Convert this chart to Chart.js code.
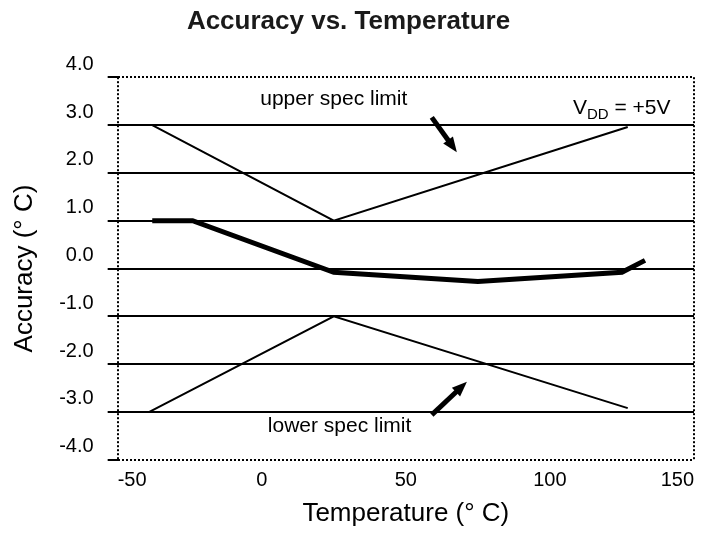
<!DOCTYPE html>
<html>
<head>
<meta charset="utf-8">
<title>Accuracy vs. Temperature</title>
<script src="https://cdn.jsdelivr.net/npm/chart.js@4.4.1/dist/chart.umd.min.js"></script>
<style>
  html, body { margin: 0; padding: 0; background: #fff; }
  #wrap { width: 703px; height: 536px; position: relative; }
</style>
</head>
<body>
<div id="wrap"><canvas id="chart"></canvas></div>
<script>
// Data (temperature in deg C, accuracy in deg C)
const upperTemps = [-38, 25, 127];
const upperVals = [3.0, 1.0, 2.96];
const lowerTemps = [-39, 25, 127];
const lowerVals = [-3.0, -1.0, -2.92];
const accTemps = [-38, -24, 25, 75, 125, 133];
const accVals = [1.0, 1.0, -0.08, -0.27, -0.08, 0.17];

const xTicks = [-50, 0, 50, 100, 150];
const yTicks = [-4, -3, -2, -1, 0, 1, 2, 3, 4];

const FONT = '"Liberation Sans", Arial, Helvetica, sans-serif';

function toPoints(xs, ys) {
  return xs.map((x, i) => ({ x, y: ys[i] }));
}

/**
 * Draws the text notes and the two arrows, placed in data units
 */
const notes = {
  id: 'notes',
  afterDatasetsDraw(chart) {
    const { ctx, scales: { x, y } } = chart;
    ctx.save();
    ctx.fillStyle = '#000';
    ctx.strokeStyle = '#000';

    ctx.font = '21px ' + FONT;
    ctx.textAlign = 'center';
    ctx.textBaseline = 'middle';
    ctx.fillText('upper spec limit', x.getPixelForValue(25), y.getPixelForValue(3.54));
    ctx.fillText('lower spec limit', x.getPixelForValue(27), y.getPixelForValue(-3.29));

    // V_DD = +5V
    ctx.textAlign = 'left';
    ctx.textBaseline = 'alphabetic';
    let px = x.getPixelForValue(108);
    const py = y.getPixelForValue(3.225);
    ctx.fillText('V', px, py);
    px += ctx.measureText('V').width;
    ctx.font = '15px ' + FONT;
    ctx.fillText('DD', px, py + 5);
    px += ctx.measureText('DD').width;
    ctx.font = '21px ' + FONT;
    ctx.fillText(' = +5V', px, py);

    drawArrow(ctx, x, y, [59, 3.16], [67.7, 2.43]);
    drawArrow(ctx, x, y, [59, -3.06], [71.2, -2.37]);
    ctx.restore();
  }
};

function drawArrow(ctx, x, y, from, to) {
  const x0 = x.getPixelForValue(from[0]);
  const y0 = y.getPixelForValue(from[1]);
  const x1 = x.getPixelForValue(to[0]);
  const y1 = y.getPixelForValue(to[1]);
  const ang = Math.atan2(y1 - y0, x1 - x0);
  const head = 15;
  const bx = x1 - head * Math.cos(ang);
  const by = y1 - head * Math.sin(ang);

  ctx.lineWidth = 5;
  ctx.lineCap = 'butt';
  ctx.beginPath();
  ctx.moveTo(x0, y0);
  ctx.lineTo(bx + 2 * Math.cos(ang), by + 2 * Math.sin(ang));
  ctx.stroke();

  ctx.beginPath();
  ctx.moveTo(x1, y1);
  ctx.lineTo(bx + 6 * Math.sin(ang), by - 6 * Math.cos(ang));
  ctx.lineTo(bx - 6 * Math.sin(ang), by + 6 * Math.cos(ang));
  ctx.closePath();
  ctx.fill();
}

const edgeX = (v) => v === xTicks[0] || v === xTicks[xTicks.length - 1];
const edgeY = (v) => v === yTicks[0] || v === yTicks[yTicks.length - 1];

new Chart(document.getElementById('chart'), {
  type: 'line',
  data: {
    datasets: [
      {
        label: 'upper spec limit',
        data: toPoints(upperTemps, upperVals),
        borderColor: '#000',
        borderWidth: 2,
      },
      {
        label: 'lower spec limit',
        data: toPoints(lowerTemps, lowerVals),
        borderColor: '#000',
        borderWidth: 2,
      },
      {
        label: 'accuracy',
        data: toPoints(accTemps, accVals),
        borderColor: '#000',
        borderWidth: 5,
        borderJoinStyle: 'miter',
      },
    ],
  },
  options: {
    responsive: true,
    maintainAspectRatio: false,
    animation: false,
    events: [],
    elements: {
      point: { radius: 0 },
      line: { tension: 0, fill: false },
    },
    layout: { padding: { left: 3, right: 9, top: 0, bottom: 0 } },
    plugins: {
      legend: { display: false },
      tooltip: { enabled: false },
      title: {
        display: true,
        text: 'Accuracy vs. Temperature',
        color: '#1a1a1a',
        font: { family: FONT, size: 26, weight: 'bold' },
        padding: { top: 6, bottom: 40 },
      },
    },
    scales: {
      x: {
        type: 'linear',
        min: xTicks[0],
        max: xTicks[xTicks.length - 1],
        afterBuildTicks: (scale) => { scale.ticks = xTicks.map(v => ({ value: v })); },
        ticks: {
          color: '#000',
          font: { family: FONT, size: 20 },
          padding: 9,
          align: 'inner',
          maxRotation: 0,
        },
        grid: {
          drawTicks: false,
          lineWidth: 2,
          color: (c) => (c.tick && edgeX(c.tick.value) ? '#000' : 'rgba(0,0,0,0)'),
        },
        border: { display: false, dash: [2, 2] },
        title: {
          display: true,
          text: 'Temperature (° C)',
          color: '#000',
          font: { family: FONT, size: 26 },
          padding: { top: -4, bottom: 7 },
        },
      },
      y: {
        type: 'linear',
        min: yTicks[0],
        max: yTicks[yTicks.length - 1],
        afterBuildTicks: (scale) => { scale.ticks = yTicks.map(v => ({ value: v })); },
        ticks: {
          color: '#000',
          font: { family: FONT, size: 20 },
          padding: 14,
          labelOffset: -13,
          callback: (v) => Number(v).toFixed(1),
        },
        grid: {
          color: '#000',
          lineWidth: 2,
          tickLength: 10,
          tickColor: '#000',
          tickWidth: 2,
        },
        border: {
          display: false,
          dash: (c) => (c.tick && edgeY(c.tick.value) ? [2, 2] : []),
        },
        title: {
          display: true,
          text: 'Accuracy (° C)',
          color: '#000',
          font: { family: FONT, size: 26 },
          padding: { top: 6, bottom: 5 },
        },
      },
    },
  },
  plugins: [notes],
});
</script>
</body>
</html>
